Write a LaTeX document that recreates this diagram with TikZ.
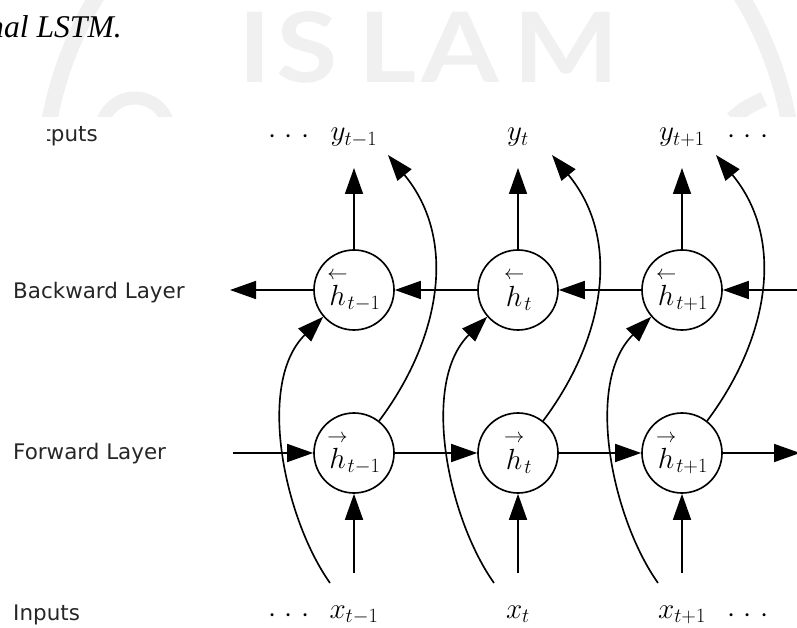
\documentclass[tikz,border=0pt]{standalone}
\usepackage{amsmath}
\usepackage{fontspec}
\newfontfamily\labelfont{DejaVu Sans}
\newfontfamily\capfont{Liberation Serif}
\newfontfamily\markfont{Lato}
\usetikzlibrary{arrows.meta,calc}

% large math with subscripts at 70% of the base size
\DeclareMathSizes{24.88}{24.88}{17.28}{14.4}
\newcommand\mathsize{\fontsize{24.88}{30}\selectfont}

\tikzset{
  x=0.3mm, y=-0.3mm,
  conn/.style={line width=1.4pt, black},
  arr/.style={conn, -{Triangle[length=7.8mm,width=5.4mm]}},
  cell/.style={circle, draw, line width=1.4pt, fill=white,
               minimum size=24mm, inner sep=0pt, font=\mathsize},
  lab/.style={anchor=base, inner sep=0pt, font=\mathsize},
  rowlabel/.style={anchor=base west, inner sep=0pt,
                   font=\labelfont\fontsize{18.3}{22}\selectfont, text=black!85},
  wmstroke/.style={draw=black!6},
  wmletter/.style={anchor=base, inner sep=0pt, text=black!6, xscale=1.15,
                   transform shape, font=\markfont\bfseries\fontsize{83}{90}\selectfont},
}

\begin{document}
\begin{tikzpicture}
\useasboundingbox (0,0) rectangle (797,628);
\clip (0,0) rectangle (797,628);

% faint watermark behind the caption line
\begin{scope}
  \clip (0,0) rectangle (797,117);
  \draw[wmstroke, line width=4.8mm] (419,190) circle[radius=112.8mm];
  \draw[wmstroke, line width=3.9mm] (135,132) circle[radius=10.2mm];
  \draw[wmstroke, line width=4.5mm] (732,119) .. controls (745,108) .. (764,99);
  \node[wmletter] at (255,83) {I};
  \node[wmletter] at (307,83) {S};
  \node[wmletter] at (388,83) {L};
  \node[wmletter] at (460,83) {A};
  \node[wmletter] at (566,83) {M};
\end{scope}

% caption fragment
\node[anchor=base west, inner sep=0pt, font=\capfont\itshape\fontsize{27}{32}\selectfont]
  (cap) at (-12,38) {nal LSTM.};

% row labels
\begin{scope}
  \clip (47,0) rectangle (797,628);
  \node[rowlabel, anchor=base east] (lout) at (98,142) {tputs};
\end{scope}
\node[rowlabel] (lback) at (13,299) {Backward Layer};
\node[rowlabel] (lfwd)  at (13,459) {Forward Layer};
\node[rowlabel] (lin)   at (13,620) {Inputs};

% the three time steps
\foreach \i/\cx/\s in {1/354/t-1, 2/518/t, 3/682/t+1} {
  \node[cell] (b\i) at (\cx,290) {$\overset{\leftarrow}{h}_{\s}$};
  \node[cell] (f\i) at (\cx,453) {$\overset{\rightarrow}{h}_{\s}$};
  \node[lab] (y\i) at (\cx,141) {$y_{\s}$};
  \node[lab] (x\i) at (\cx,618) {$x_{\s}$};
  \coordinate (yin\i)   at (\cx,168);
  \coordinate (ybend\i) at (\cx+34,155);
  \coordinate (xout\i)  at (\cx,573);
  \coordinate (xbend\i) at (\cx-24,583);
  % outputs and inputs
  \draw[arr] (b\i) -- (yin\i);
  \draw[arr] (xout\i) -- (f\i);
  % input feeding the backward cell
  \draw[arr] (xbend\i) .. controls (\cx-70,518) and (\cx-98,383) .. (b\i.221);
  % forward cell feeding the output
  \draw[arr] (f\i.52) .. controls (\cx+85,341) and (\cx+105,241) .. (ybend\i);
}

% ellipses around the sequence
\node[lab] (dy1) at (289,144) {${\cdot}\mkern5mu{\cdot}\mkern5mu{\cdot}$};
\node[lab] (dy2) at (748,144) {${\cdot}\mkern5mu{\cdot}\mkern5mu{\cdot}$};
\node[lab] (dx1) at (289,622) {${\cdot}\mkern5mu{\cdot}\mkern5mu{\cdot}$};
\node[lab] (dx2) at (748,622) {${\cdot}\mkern5mu{\cdot}\mkern5mu{\cdot}$};

% recurrent connections
\coordinate (bR) at (805,290);
\coordinate (bL) at (230,290);
\coordinate (fL) at (233,453);
\coordinate (fR) at (800,453);
\draw[arr] (bR) -- (b3);
\draw[arr] (b3) -- (b2);
\draw[arr] (b2) -- (b1);
\draw[arr] (b1) -- (bL);
\draw[arr] (fL) -- (f1);
\draw[arr] (f1) -- (f2);
\draw[arr] (f2) -- (f3);
\draw[arr] (f3) -- (fR);
\end{tikzpicture}
\end{document}
